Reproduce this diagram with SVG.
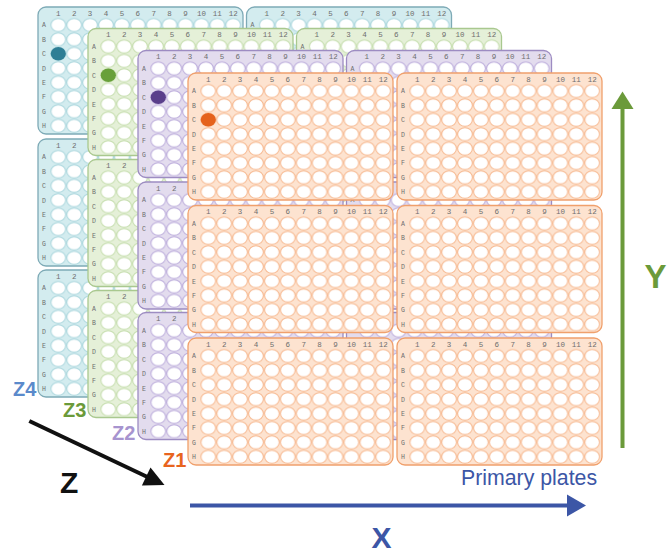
<svg xmlns="http://www.w3.org/2000/svg" xmlns:xlink="http://www.w3.org/1999/xlink" width="669" height="553" viewBox="0 0 669 553">
<style>
.lbl{font-family:"Liberation Mono","DejaVu Sans Mono",monospace;fill:#6e6e6e;text-anchor:middle}
.hd{font-size:7.5px}
.rw{font-size:6.5px}
.po .body{fill:#fde3d0;stroke:#f0a06c;stroke-width:1.3}
.pp .body{fill:#e3dcee;stroke:#9d8cc2;stroke-width:1.3}
.pg .body{fill:#e5f0d8;stroke:#a9c88f;stroke-width:1.3}
.pt .body{fill:#d3ecef;stroke:#7eaab6;stroke-width:1.3}
.zl{font-family:"Liberation Sans",Arial,sans-serif;font-weight:bold;font-size:20px}
.ax{font-family:"Liberation Sans",Arial,sans-serif;font-weight:bold}
.ln{fill:none;stroke-width:4}
</style>
<defs>
<pattern id="w-o" patternUnits="userSpaceOnUse" x="12.35" y="10.8" width="15.9" height="14.4"><ellipse cx="7.95" cy="7.2" rx="7.35" ry="6.55" fill="#fff" stroke="#f6b68c" stroke-width="1"/></pattern>
<pattern id="w-p" patternUnits="userSpaceOnUse" x="12.35" y="10.8" width="15.9" height="14.4"><ellipse cx="7.95" cy="7.2" rx="7.35" ry="6.55" fill="#fff" stroke="#b9a9da" stroke-width="1"/></pattern>
<pattern id="w-g" patternUnits="userSpaceOnUse" x="12.35" y="10.8" width="15.9" height="14.4"><ellipse cx="7.95" cy="7.2" rx="7.35" ry="6.55" fill="#fff" stroke="#c3dcaa" stroke-width="1"/></pattern>
<pattern id="w-t" patternUnits="userSpaceOnUse" x="12.35" y="10.8" width="15.9" height="14.4"><ellipse cx="7.95" cy="7.2" rx="7.35" ry="6.55" fill="#fff" stroke="#a8d5dc" stroke-width="1"/></pattern>
<g id="plate-labels" class="lbl">
<text class="hd" x="20.3" y="8.7">1</text><text class="hd" x="36.2" y="8.7">2</text><text class="hd" x="52.1" y="8.7">3</text><text class="hd" x="68" y="8.7">4</text><text class="hd" x="83.9" y="8.7">5</text><text class="hd" x="99.8" y="8.7">6</text><text class="hd" x="115.7" y="8.7">7</text><text class="hd" x="131.6" y="8.7">8</text><text class="hd" x="147.5" y="8.7">9</text><text class="hd" x="163.4" y="8.7">10</text><text class="hd" x="179.3" y="8.7">11</text><text class="hd" x="195.2" y="8.7">12</text>
<text class="rw" x="6" y="20.4">A</text><text class="rw" x="6" y="34.8">B</text><text class="rw" x="6" y="49.2">C</text><text class="rw" x="6" y="63.6">D</text><text class="rw" x="6" y="78">E</text><text class="rw" x="6" y="92.4">F</text><text class="rw" x="6" y="106.8">G</text><text class="rw" x="6" y="121.2">H</text>
</g>
<g id="plate-o" class="po"><rect class="body" x="0" y="0" width="205" height="127" rx="8"/><rect x="12.35" y="10.8" width="190.8" height="115.2" fill="url(#w-o)"/><use href="#plate-labels"/></g>
<g id="plate-p" class="pp"><rect class="body" x="0" y="0" width="205" height="127" rx="8"/><rect x="12.35" y="10.8" width="190.8" height="115.2" fill="url(#w-p)"/><use href="#plate-labels"/></g>
<g id="plate-g" class="pg"><rect class="body" x="0" y="0" width="205" height="127" rx="8"/><rect x="12.35" y="10.8" width="190.8" height="115.2" fill="url(#w-g)"/><use href="#plate-labels"/></g>
<g id="plate-t" class="pt"><rect class="body" x="0" y="0" width="205" height="127" rx="8"/><rect x="12.35" y="10.8" width="190.8" height="115.2" fill="url(#w-t)"/><use href="#plate-labels"/></g>
</defs>
<rect width="669" height="553" fill="#fff"/>
<g id="z-labels">
<text class="zl" x="13" y="396" fill="#5b8acb">Z4</text>
<text class="zl" x="63" y="417" fill="#6b9a3a">Z3</text>
<text class="zl" x="112" y="440" fill="#a794cf">Z2</text>
<text class="zl" x="163" y="467" fill="#e8641e">Z1</text>
</g>
<g id="layer-z4">
<g id="z4-r1-c1"><use href="#plate-t" x="38" y="7"/><ellipse cx="58.3" cy="53.8" rx="7.6" ry="6.8" fill="#2e7e95"/></g>
<g id="z4-r1-c2"><use href="#plate-t" x="246.5" y="7"/></g>
<g id="z4-r2-c1"><use href="#plate-t" x="38" y="139"/></g>
<g id="z4-r2-c2"><use href="#plate-t" x="246.5" y="139"/></g>
<g id="z4-r3-c1"><use href="#plate-t" x="38" y="270"/></g>
<g id="z4-r3-c2"><use href="#plate-t" x="246.5" y="270"/></g>
</g>
<g id="layer-z3">
<g id="z3-r1-c1"><use href="#plate-g" x="88" y="28.5"/><ellipse cx="108.3" cy="75.3" rx="7.6" ry="6.8" fill="#68a03a"/></g>
<g id="z3-r1-c2"><use href="#plate-g" x="296.5" y="28.5"/></g>
<g id="z3-r2-c1"><use href="#plate-g" x="88" y="159.5"/></g>
<g id="z3-r2-c2"><use href="#plate-g" x="296.5" y="159.5"/></g>
<g id="z3-r3-c1"><use href="#plate-g" x="88" y="290.5"/></g>
<g id="z3-r3-c2"><use href="#plate-g" x="296.5" y="290.5"/></g>
</g>
<g id="layer-z2">
<g id="z2-r1-c1"><use href="#plate-p" x="138" y="50.5"/><ellipse cx="158.3" cy="97.3" rx="7.6" ry="6.8" fill="#5a3f8b"/></g>
<g id="z2-r1-c2"><use href="#plate-p" x="346.5" y="50.5"/></g>
<g id="z2-r2-c1"><use href="#plate-p" x="138" y="182"/></g>
<g id="z2-r2-c2"><use href="#plate-p" x="346.5" y="182"/></g>
<g id="z2-r3-c1"><use href="#plate-p" x="138" y="312.5"/></g>
<g id="z2-r3-c2"><use href="#plate-p" x="346.5" y="312.5"/></g>
</g>
<g id="layer-z1">
<g id="z1-r1-c1"><use href="#plate-o" x="188" y="73"/><ellipse cx="208.3" cy="119.8" rx="7.6" ry="6.8" fill="#e5621c"/></g>
<g id="z1-r1-c2"><use href="#plate-o" x="397" y="73"/></g>
<g id="z1-r2-c1"><use href="#plate-o" x="188" y="205.5"/></g>
<g id="z1-r2-c2"><use href="#plate-o" x="397" y="205.5"/></g>
<g id="z1-r3-c1"><use href="#plate-o" x="188" y="338"/></g>
<g id="z1-r3-c2"><use href="#plate-o" x="397" y="338"/></g>
</g>
<g id="connectors">
<g id="x-axis"><line class="ln" x1="190" y1="505.5" x2="569" y2="505.5" stroke="#3c56a6"/><path d="M567,494.5 L586,505.5 L567,516.5 Z" fill="#3c56a6"/></g>
<g id="y-axis"><line class="ln" x1="622.5" y1="448" x2="622.5" y2="107" stroke="#6b9a3a"/><path d="M611.5,109 L622.5,91.5 L633.5,109 Z" fill="#6b9a3a"/></g>
<g id="z-axis"><line class="ln" x1="29.3" y1="421" x2="148" y2="477.3" stroke="#111"/><path d="M141.9,485.6 L164.5,485 L150.5,467.4 Z" fill="#111"/></g>
</g>
<g id="axis-labels">
<text x="461" y="485" font-family="Liberation Sans,Arial,sans-serif" font-size="21.3" fill="#3c56a6">Primary plates</text>
<text class="ax" x="371.5" y="548" font-size="30" fill="#3c56a6">X</text>
<text class="ax" x="644.5" y="288" font-size="33" fill="#6b9a3a">Y</text>
<text class="ax" x="60" y="492.5" font-size="30" fill="#111">Z</text>
</g>
</svg>
